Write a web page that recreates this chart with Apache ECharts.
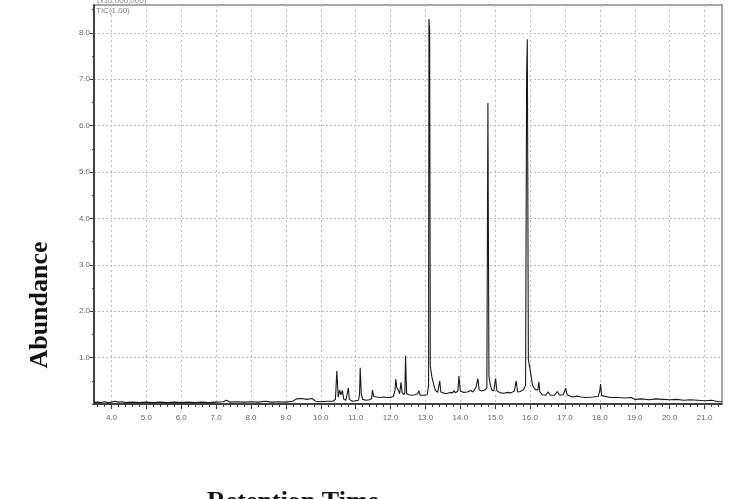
<!DOCTYPE html>
<html>
<head>
<meta charset="utf-8">
<script src="https://cdn.jsdelivr.net/npm/echarts@6/dist/echarts.min.js"></script>
<style>html,body{margin:0;padding:0;background:#fff;}#c{width:750px;height:499px;}</style>
</head>
<body>
<div id="c"></div>
<script>
// Retention time (min)
const times = [
3.50,3.60,3.70,3.80,3.90,4.00,4.10,4.20,4.30,4.40,4.60,4.80,5.00,5.20,5.40,5.60,5.80,6.00,6.20,6.40,
6.60,6.80,7.00,7.20,7.30,7.40,7.60,7.80,8.00,8.20,8.40,8.60,8.80,9.00,9.20,9.30,9.45,9.60,9.75,9.85,
10.00,10.20,10.35,10.42,10.46,10.50,10.54,10.58,10.62,10.66,10.72,10.77,10.79,10.82,10.90,11.00,11.08,11.11,11.13,11.16,
11.20,11.30,11.40,11.46,11.48,11.52,11.60,11.70,11.80,11.90,12.00,12.08,12.13,12.15,12.18,12.22,12.26,12.30,12.33,12.38,
12.41,12.43,12.46,12.52,12.60,12.70,12.78,12.81,12.85,12.95,13.05,13.09,13.10,13.12,13.14,13.18,13.22,13.28,13.35,13.39,
13.41,13.44,13.50,13.60,13.70,13.78,13.82,13.86,13.93,13.96,14.00,14.10,14.20,14.30,14.36,14.45,14.50,14.54,14.62,14.70,
14.76,14.79,14.82,14.85,14.90,14.96,15.01,15.05,15.15,15.25,15.35,15.45,15.55,15.60,15.64,15.72,15.80,15.87,15.90,15.92,
15.95,15.99,16.07,16.15,16.22,16.25,16.28,16.35,16.45,16.52,16.58,16.70,16.78,16.85,16.95,17.02,17.06,17.10,17.20,17.35,
17.45,17.60,17.80,17.95,18.00,18.02,18.05,18.10,18.30,18.50,18.70,18.90,19.00,19.20,19.40,19.60,19.80,20.00,20.20,20.40,
20.60,20.80,21.00,21.20,21.40,21.50
];
// Abundance (x10,000,000)
const abundance = [
0.03,0.04,0.03,0.05,0.03,0.04,0.06,0.04,0.05,0.03,0.04,0.03,0.04,0.03,0.04,0.03,0.04,0.03,0.04,0.03,
0.04,0.03,0.04,0.05,0.08,0.04,0.05,0.04,0.05,0.04,0.06,0.04,0.05,0.04,0.06,0.11,0.12,0.10,0.12,0.06,
0.05,0.06,0.06,0.10,0.71,0.15,0.30,0.20,0.29,0.10,0.08,0.12,0.35,0.10,0.06,0.07,0.08,0.20,0.78,0.22,
0.10,0.08,0.09,0.12,0.30,0.16,0.15,0.14,0.15,0.14,0.14,0.16,0.30,0.54,0.35,0.30,0.22,0.47,0.25,0.20,
0.25,1.04,0.22,0.20,0.19,0.20,0.22,0.29,0.19,0.19,0.20,0.40,8.30,8.06,0.83,0.60,0.47,0.30,0.25,0.28,
0.50,0.26,0.24,0.22,0.25,0.24,0.29,0.24,0.28,0.60,0.28,0.25,0.26,0.29,0.26,0.36,0.55,0.30,0.28,0.30,
0.35,6.49,0.60,0.45,0.30,0.28,0.55,0.28,0.24,0.23,0.25,0.24,0.28,0.50,0.26,0.27,0.30,0.40,7.10,7.86,
0.95,0.79,0.40,0.31,0.30,0.48,0.26,0.20,0.19,0.26,0.19,0.19,0.27,0.19,0.20,0.34,0.20,0.16,0.15,0.17,
0.15,0.14,0.15,0.16,0.30,0.43,0.18,0.14,0.14,0.14,0.13,0.14,0.10,0.11,0.09,0.11,0.10,0.09,0.10,0.08,
0.09,0.08,0.07,0.08,0.05,0.05
];
const xTickValues = [4,5,6,7,8,9,10,11,12,13,14,15,16,17,18,19,20,21];
const xTickLabels = ['4.0','5.0','6.0','7.0','8.0','9.0','10.0','11.0','12.0','13.0','14.0','15.0','16.0','17.0','18.0','19.0','20.0','21.0'];
const yTickValues = [1,2,3,4,5,6,7,8];
const yTickLabels = ['1.0','2.0','3.0','4.0','5.0','6.0','7.0','8.0'];

const points = times.map((t, i) => [t, abundance[i]]);
const xMinor = [];
for (let k = 18; k <= 107; k++) xMinor.push(k / 5);
const yMinor = [];
for (let k = 0; k <= 17; k++) yMinor.push(k / 2);

const chart = echarts.init(document.getElementById('c'), null, {renderer: 'canvas'});
const labelStyle = {color: '#666', fontSize: 8, fontFamily: 'Liberation Sans'};
chart.setOption({
  animation: false,
  backgroundColor: '#fff',
  grid: [{left: 94, right: 28, top: 5, bottom: 95, show: true, borderColor: '#8a8a8a', borderWidth: 1.5, backgroundColor: 'transparent'}],
  xAxis: [{
    type: 'value', min: 3.5, max: 21.5,
    axisLine: {show: true, onZero: false, lineStyle: {color: '#222', width: 1.5}},
    axisTick: {show: true, length: 5, customValues: xTickValues, lineStyle: {color: '#333'}},
    axisLabel: {show: true, customValues: xTickValues, margin: 10,
      formatter: v => { const i = xTickValues.indexOf(Math.round(v)); return i >= 0 ? xTickLabels[i] : ''; },
      ...labelStyle},
    splitLine: {show: true, lineStyle: {color: '#bdbdbd', type: [2, 3], width: 1}}
  }, {
    type: 'value', min: 3.5, max: 21.5, position: 'bottom',
    axisLine: {show: false, onZero: false},
    axisTick: {show: true, length: 3, customValues: xMinor, lineStyle: {color: '#444'}},
    axisLabel: {show: false},
    splitLine: {show: false}
  }],
  yAxis: [{
    type: 'value', min: 0, max: 8.6,
    axisLine: {show: true, onZero: false, lineStyle: {color: '#222', width: 1.5}},
    axisTick: {show: true, length: 4, customValues: yTickValues, lineStyle: {color: '#333'}},
    axisLabel: {show: true, customValues: yTickValues, margin: 4,
      formatter: v => { const i = yTickValues.indexOf(Math.round(v)); return i >= 0 ? yTickLabels[i] : ''; },
      ...labelStyle},
    splitLine: {show: true, lineStyle: {color: '#bdbdbd', type: [2, 2], width: 1}}
  }, {
    type: 'value', min: 0, max: 8.6, position: 'left',
    axisLine: {show: false, onZero: false},
    axisTick: {show: true, length: 2, customValues: yMinor, lineStyle: {color: '#444'}},
    axisLabel: {show: false},
    splitLine: {show: false}
  }],
  series: [{
    type: 'line', data: points, xAxisIndex: 0, yAxisIndex: 0,
    showSymbol: false, symbol: 'none',
    lineStyle: {color: '#1a1a1a', width: 1.1},
    z: 5
  }],
  graphic: [
    {type: 'text', left: 97, top: -3, style: {text: '(x10,000,000)', fill: '#888', font: '8px Liberation Sans'}},
    {type: 'text', left: 96, top: 7, style: {text: 'TIC(1.00)', fill: '#888', font: '8px Liberation Sans'}},
    {type: 'text', x: 40, y: 305, rotation: Math.PI / 2,
      style: {text: 'Abundance', fill: '#111', font: 'bold 26px "Liberation Serif"', align: 'center', verticalAlign: 'middle'}},
    {type: 'text', left: 207, top: 489,
      style: {text: 'Retention Time', fill: '#111', font: 'bold 26px "Liberation Serif"'}}
  ]
});
</script>
</body>
</html>
